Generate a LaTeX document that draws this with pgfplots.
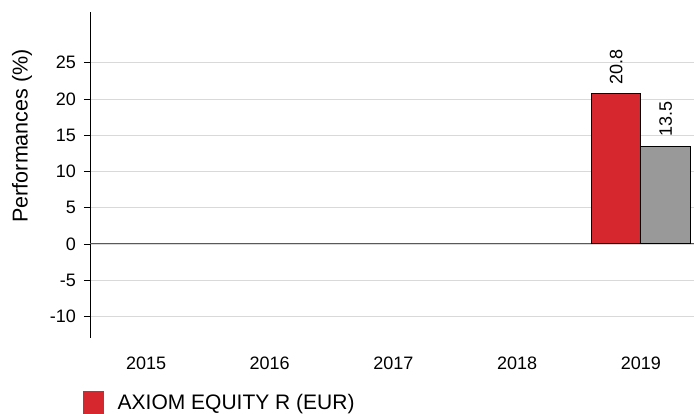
\documentclass[border=0pt]{standalone}
\usepackage{pgfplots}
\pgfplotsset{compat=1.18}
\usepackage{fontspec}
\setmainfont{Liberation Sans}
\definecolor{axred}{RGB}{214,39,46}
\definecolor{axgray}{RGB}{153,153,153}
\definecolor{gridgray}{RGB}{217,217,217}
\begin{document}
\begin{tikzpicture}
\begin{axis}[
  at={(90bp,76bp)}, anchor=south west,
  scale only axis, width=604bp, height=326bp,
  xmin=-0.453, xmax=4.43,
  ymin=-13, ymax=32,
  axis x line*=bottom, axis y line*=left,
  x axis line style={draw=none},
  y axis line style={-, black, line width=0.8pt},
  xtick={0,1,2,3,4},
  xticklabels={2015,2016,2017,2018,2019},
  xtick style={draw=none},
  xticklabel style={anchor=north, inner sep=0pt, yshift=-13bp, font=\fontsize{18bp}{20bp}\selectfont},
  ytick={-10,-5,0,5,10,15,20,25},
  ytick style={black, line width=0.6pt},
  tick align=outside,
  major tick length=6bp,
  yticklabel style={anchor=east, inner sep=0pt, xshift=-8bp, font=\fontsize{18bp}{20bp}\selectfont},
  /pgf/number format/assume math mode=true,
  ymajorgrids,
  grid style={gridgray, line width=0.6pt},
  extra y ticks={0},
  extra y tick labels={},
  extra y tick style={major grid style={black!65, line width=0.9pt}, ytick style={draw=none}},
  ylabel={Performances (\%)},
  ylabel style={at={(axis description cs:-0.1126,0.62)}, anchor=center, font=\fontsize{21.5bp}{24bp}\selectfont},
  clip=false,
  legend style={at={(axis description cs:-0.0116,-0.1626)}, anchor=north west, draw=none, fill=none,
    inner sep=0pt, outer sep=0pt, nodes={inner sep=0pt}, font=\fontsize{21bp}{23bp}\selectfont,
    /tikz/every odd column/.append style={column sep=14bp}},
  legend cell align=left,
]
\addplot[ybar, bar width=49.5bp, bar shift=-24.75bp, fill=axred, draw=black, line width=0.7pt,
  nodes near coords, point meta=explicit symbolic,
  nodes near coords style={xshift=-24.75bp, yshift=8bp, rotate=90, anchor=west, inner sep=0pt, font=\fontsize{18bp}{20bp}\selectfont},
  legend image code/.code={\fill[axred] (0bp,-11bp) rectangle (20bp,11bp);}]
  coordinates {(4,20.8) [20.8]};
\addlegendentry{AXIOM EQUITY R (EUR)}
\addplot[ybar, bar width=49.5bp, bar shift=24.75bp, fill=axgray, draw=black, line width=0.7pt, forget plot,
  nodes near coords, point meta=explicit symbolic,
  nodes near coords style={xshift=24.75bp, yshift=9bp, rotate=90, anchor=west, inner sep=0pt, font=\fontsize{18bp}{20bp}\selectfont}]
  coordinates {(4,13.5) [13.5]};
\end{axis}
\pgfresetboundingbox
\path[use as bounding box] (0,0) rectangle (694bp,414bp);
\end{tikzpicture}
\end{document}
